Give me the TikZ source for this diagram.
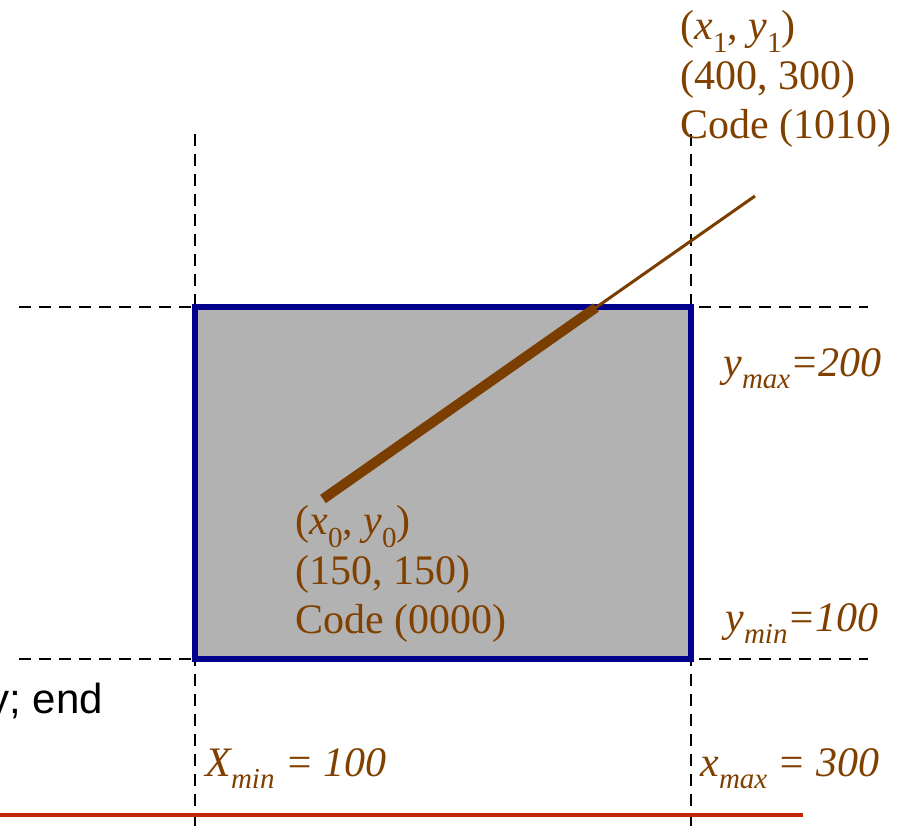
\documentclass[tikz,border=0pt]{standalone}
\usepackage{fontspec}
\setmainfont{Liberation Serif}
\newfontfamily\slidesans{Liberation Sans}
\usepackage{xcolor}
\definecolor{labelbrown}{RGB}{128,64,0}
\definecolor{linebrown}{RGB}{122,62,0}
\definecolor{windownavy}{RGB}{0,0,140}
\definecolor{windowgray}{RGB}{178,178,178}
\definecolor{rulered}{RGB}{192,40,8}
\newcommand{\lowsub}[1]{\raisebox{-0.3em}{\fontsize{14.5}{14.5}\selectfont #1}}

\begin{document}
\begin{tikzpicture}[
  x=0.5pt, y=-0.5pt,
  every node/.style={font=\fontsize{21}{24.75}\selectfont, inner sep=0pt},
  guide/.style={dash pattern=on 6pt off 4pt, line width=1.4pt},
  window/.style={draw=windownavy, fill=windowgray, line width=2.6pt},
  lbl/.style={text=labelbrown, align=left, anchor=north west},
  bound/.style={text=labelbrown, anchor=base west,
                font=\fontsize{21}{24.75}\selectfont\itshape}
]
  \useasboundingbox (0,0) rectangle (901,832);
  \clip (0,0) rectangle (901,832);

  \draw[guide] (195,134) -- (195,832);
  \draw[guide] (691,134) -- (691,832);
  \draw[guide] (19,307) -- (868,307);
  \draw[guide] (19,659) -- (868,659);

  \draw[window] (195,307) rectangle (691,659);

  \coordinate (p0) at (323,499);
  \coordinate (pc) at (596,307.5);
  \coordinate (p1) at (755,196);
  \draw[linebrown, line width=5pt] (p0) -- (pc);
  \draw[linebrown, line width=1.5pt] (pc) -- (p1);

  \node[lbl] (p1lbl) at (680,10)
    {(\textit{x}\lowsub{1}, \textit{y}\lowsub{1})\\(400, 300)\\Code (1010)};
  \node[lbl] (p0lbl) at (295,505)
    {(\textit{x}\lowsub{0}, \textit{y}\lowsub{0})\\(150, 150)\\Code (0000)};

  \node[bound] (ymaxlbl) at (723,376) {y\lowsub{max}=200};
  \node[bound] (yminlbl) at (725,631) {y\lowsub{min}=100};
  \node[bound] (xminlbl) at (205,776) {X\lowsub{min} = 100};
  \node[bound] (xmaxlbl) at (700,776) {x\lowsub{max} = 300};

  \node[anchor=base west, font=\fontsize{21}{24.75}\selectfont\slidesans] (endtxt)
    at (-12,713) {y; end};

  \draw[rulered, line width=2pt] (0,815) -- (803,815);
\end{tikzpicture}
\end{document}
